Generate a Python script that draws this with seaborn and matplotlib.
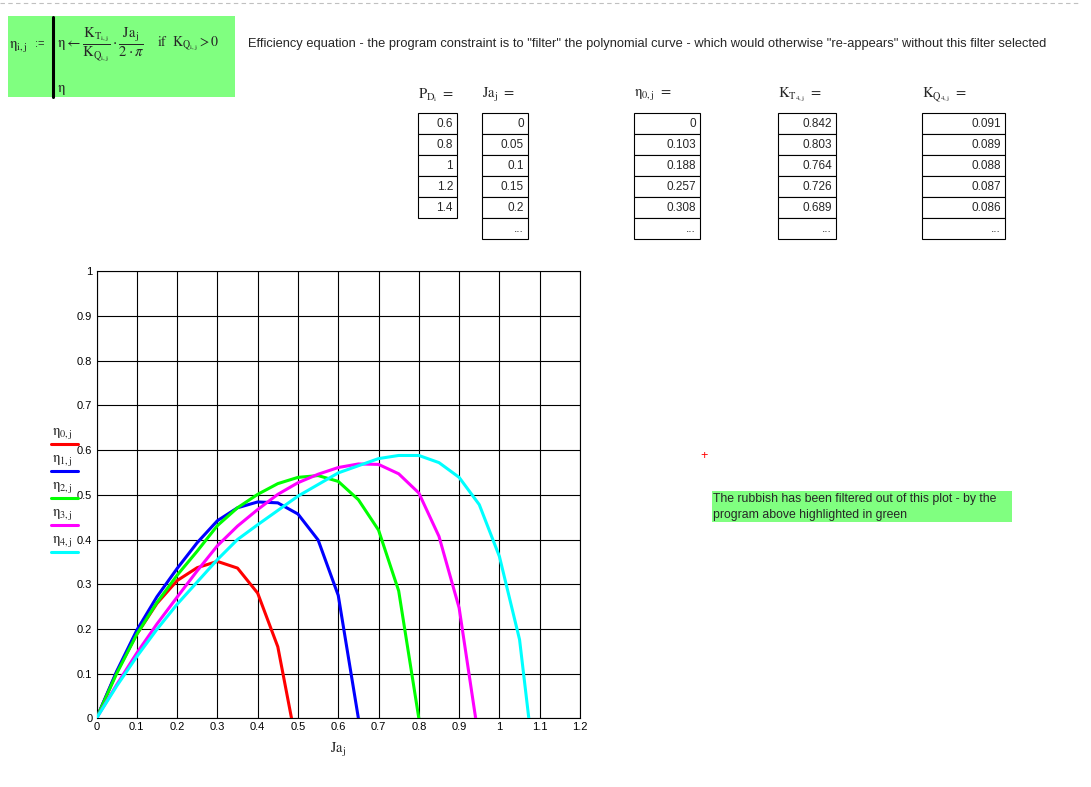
import numpy as np
import pandas as pd
import matplotlib
matplotlib.use("Agg")
import matplotlib.pyplot as plt
import seaborn as sns
from matplotlib.patches import Rectangle
from matplotlib.lines import Line2D

# ---------------- data ----------------
J = [0, 0.05, 0.1, 0.15, 0.2, 0.25, 0.3, 0.35, 0.4, 0.45, 0.5, 0.55,
     0.6, 0.65, 0.7, 0.75, 0.8, 0.85, 0.9, 0.95, 1.0, 1.05, 1.1]

eta0 = [0, 0.103, 0.188, 0.257, 0.308, 0.337, 0.351, 0.336, 0.280, 0.160, -0.075]
eta1 = [0, 0.105, 0.197, 0.272, 0.335, 0.393, 0.442, 0.471, 0.484, 0.482, 0.457,
        0.399, 0.275, 0.0]
eta2 = [0, 0.100, 0.188, 0.259, 0.320, 0.374, 0.431, 0.471, 0.501, 0.525, 0.539,
        0.543, 0.530, 0.489, 0.421, 0.285, 0.0]
eta3 = [0, 0.075, 0.146, 0.211, 0.271, 0.330, 0.386, 0.430, 0.467, 0.501, 0.527,
        0.546, 0.561, 0.569, 0.568, 0.547, 0.504, 0.407, 0.247, -0.054]
eta4 = [0, 0.072, 0.138, 0.199, 0.255, 0.305, 0.355, 0.400, 0.433, 0.465, 0.497,
        0.523, 0.549, 0.565, 0.581, 0.588, 0.588, 0.572, 0.539, 0.478, 0.362,
        0.176, -0.207]

series_names = ["eta0", "eta1", "eta2", "eta3", "eta4"]
series_vals = [eta0, eta1, eta2, eta3, eta4]
series_labels = [r"$\mathrm{\eta}_{\mathrm{0,j}}$", r"$\mathrm{\eta}_{\mathrm{1,j}}$",
                 r"$\mathrm{\eta}_{\mathrm{2,j}}$", r"$\mathrm{\eta}_{\mathrm{3,j}}$",
                 r"$\mathrm{\eta}_{\mathrm{4,j}}$"]
series_colors = ["#ff0000", "#0000ff", "#00ff00", "#ff00ff", "#00ffff"]

x_ticks = [0, 0.1, 0.2, 0.3, 0.4, 0.5, 0.6, 0.7, 0.8, 0.9, 1.0, 1.1, 1.2]
x_tick_labels = ["0", "0.1", "0.2", "0.3", "0.4", "0.5", "0.6", "0.7", "0.8",
                 "0.9", "1", "1.1", "1.2"]
y_ticks = [0, 0.1, 0.2, 0.3, 0.4, 0.5, 0.6, 0.7, 0.8, 0.9, 1.0]
y_tick_labels = ["0", "0.1", "0.2", "0.3", "0.4", "0.5", "0.6", "0.7", "0.8",
                 "0.9", "1"]

# tables
pd_vals = [0.6, 0.8, 1, 1.2, 1.4]
ja_vals = [0, 0.05, 0.1, 0.15, 0.2]
eta0_tab = [0, 0.103, 0.188, 0.257, 0.308]
kt4_vals = [0.842, 0.803, 0.764, 0.726, 0.689]
kq4_vals = [0.091, 0.089, 0.088, 0.087, 0.086]

title_text = ('Efficiency equation - the program constraint is to "filter" the polynomial '
              'curve - which would otherwise "re-appears" without this filter selected')
note_lines = ["The rubbish has been filtered out of this plot - by the",
              "program above highlighted in green"]

# ---------------- figure ----------------
sns.set_theme(style="white")
plt.rcParams["font.family"] = ["Liberation Sans", "DejaVu Sans"]
plt.rcParams["mathtext.fontset"] = "stix"

W, H = 1091, 787
fig = plt.figure(figsize=(W / 100, H / 100), dpi=100)
fig.patch.set_facecolor("white")

ax = fig.add_axes([96.5 / W, 1 - 718.3 / H, 483.5 / W, 447 / H])

rows = []
for name, vals in zip(series_names, series_vals):
    for x, y in zip(J, vals):
        rows.append({"J": x, "eta": y, "series": name})
df = pd.DataFrame(rows)

sns.lineplot(data=df, x="J", y="eta", hue="series", hue_order=series_names,
             palette=dict(zip(series_names, series_colors)), sort=False,
             estimator=None, legend=False, linewidth=2.2, ax=ax, zorder=3)

ax.set_xlim(0, 1.2)
ax.set_ylim(0, 1)
ax.set_xticks(x_ticks)
ax.set_xticklabels(x_tick_labels)
ax.set_yticks(y_ticks)
ax.set_yticklabels(y_tick_labels)
ax.tick_params(axis="both", length=0, labelsize=8, colors="black", pad=3)
ax.grid(True, color="black", linewidth=0.8)
ax.set_axisbelow(True)
for s in ax.spines.values():
    s.set_color("black")
    s.set_linewidth(0.8)
ax.set_xlabel(r"$\mathrm{Ja}_{\mathrm{j}}$", fontsize=10.5, labelpad=6)
ax.set_ylabel("")
ax.set_facecolor("white")

# ---------------- overlay in pixel coordinates ----------------
ov = fig.add_axes([0, 0, 1, 1], zorder=5)
ov.set_xlim(0, W)
ov.set_ylim(H, 0)
ov.axis("off")
ov.patch.set_alpha(0)

# top dashed border
ov.add_line(Line2D([0, 1080], [3, 3], color="#c0c0c0", lw=0.8, ls=(0, (4, 3))))

# equation box
ov.add_patch(Rectangle((8, 16), 227, 81, facecolor="#80ff80", edgecolor="none"))
ov.add_line(Line2D([53, 53], [17, 97], color="black", lw=2.2))
ov.text(9, 47, r"$\mathrm{\eta}_{\mathrm{i,j}}$", fontsize=10.5, va="center", ha="left")
ov.text(35, 44, ":=", fontsize=8, va="center", ha="left")
ov.text(57, 44, r"$\mathrm{\eta} \leftarrow \dfrac{\mathrm{K}_{\mathrm{T}_{\mathrm{i,j}}}}{\mathrm{K}_{\mathrm{Q}_{\mathrm{i,j}}}}"
        r"\cdot\dfrac{\mathrm{Ja}_{\mathrm{j}}}{2\cdot\pi}$",
        fontsize=10.5, va="center", ha="left")
ov.text(157, 44, r"$\mathrm{if}\ \ \mathrm{K}_{\mathrm{Q}_{\mathrm{i,j}}} > 0$",
        fontsize=10, va="center", ha="left")
ov.text(57, 90, r"$\mathrm{\eta}$", fontsize=10.5, va="center", ha="left")

# title
ov.text(248, 44, title_text, fontsize=9.3, va="center", ha="left")

# tables
def draw_table(x0, width, values, header, extra_row):
    ov.text(x0, 95, header, fontsize=10.5, va="center", ha="left")
    top, rh = 113, 21
    nrows = len(values) + (1 if extra_row else 0)
    for r in range(nrows):
        ov.add_patch(Rectangle((x0, top + r * rh), width, rh, facecolor="white",
                               edgecolor="black", lw=0.8))
        txt = f"{values[r]:g}" if r < len(values) else "..."
        ov.text(x0 + width - 4, top + r * rh + rh / 2 + 0.5, txt, fontsize=8.5,
                va="center", ha="right")

draw_table(418, 39, pd_vals, r"$\mathrm{P}_{\mathrm{D}_{\mathrm{i}}}\ =$", False)
draw_table(482, 46, ja_vals, r"$\mathrm{Ja}_{\mathrm{j}}\ =$", True)
draw_table(634, 66, eta0_tab, r"$\mathrm{\eta}_{\mathrm{0,j}}\ =$", True)
draw_table(778, 58, kt4_vals, r"$\mathrm{K}_{\mathrm{T}_{\mathrm{4,j}}}\ =$", True)
draw_table(922, 83, kq4_vals, r"$\mathrm{K}_{\mathrm{Q}_{\mathrm{4,j}}}\ =$", True)

# legend at the left of the plot
for k, (lab, col) in enumerate(zip(series_labels, series_colors)):
    yl = 443.5 + k * 27.1
    ov.text(52, yl - 10, lab, fontsize=10.5, va="center", ha="left")
    ov.add_line(Line2D([51, 78], [yl, yl], color=col, lw=2.2))

# red cross marker
ov.text(704, 456, "+", color="red", fontsize=9, va="center", ha="center")

# green note
ov.add_patch(Rectangle((712, 491), 300, 31, facecolor="#80ff80", edgecolor="none"))
ov.text(713, 499, note_lines[0], fontsize=8.8, va="center", ha="left")
ov.text(713, 515, note_lines[1], fontsize=8.8, va="center", ha="left")

fig.savefig("out.png", dpi=100, facecolor="white")
